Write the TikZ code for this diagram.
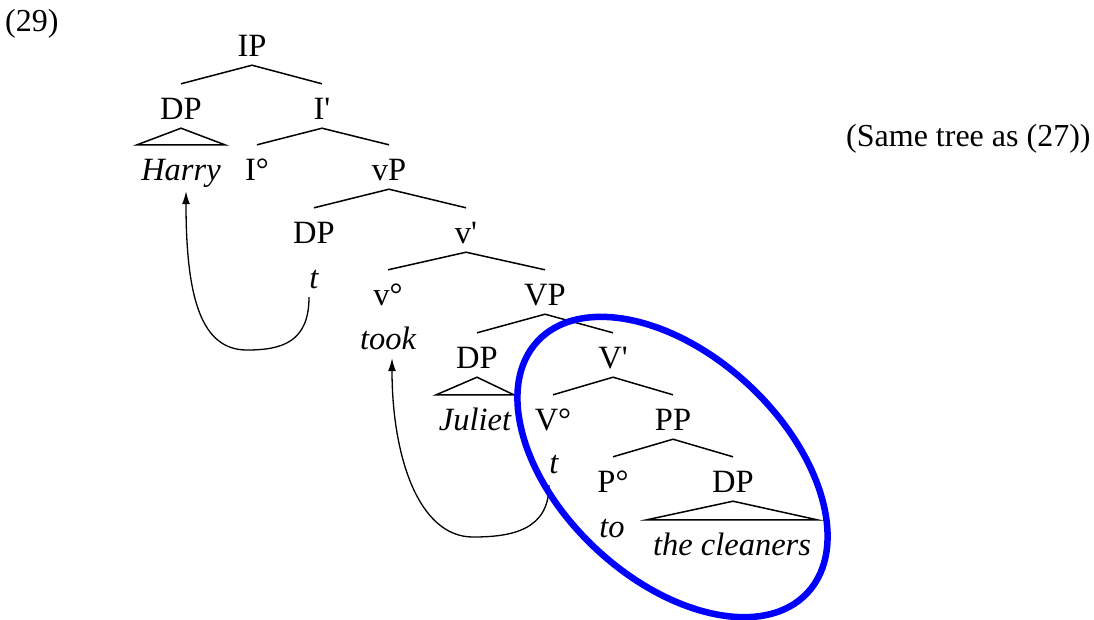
\documentclass[tikz,border=0pt]{standalone}
\usepackage{fontspec}
\setmainfont{Liberation Serif}[Ligatures=TeXOff]
\usetikzlibrary{arrows.meta}
\begin{document}
\begin{tikzpicture}[x=1pt,y=-1pt,
  lab/.style={inner ysep=0pt, inner xsep=0pt, text height=35pt, text depth=9pt, anchor=base, font=\fontsize{32.5}{38}\selectfont},
  ital/.style={lab, font=\fontsize{32.5}{38}\selectfont\itshape},
  word/.style={ital, inner xsep=4pt},
  free/.style={inner sep=0pt, anchor=base west, font=\fontsize{32}{38}\selectfont},
  branch/.style={line width=1.5pt},
  mv/.style={line width=1.3pt, -{Latex[length=13pt,width=8pt]}},
  circ/.style={draw={rgb,255:red,0;green,0;blue,255}, line width=6.5pt}]
\useasboundingbox (0,0) rectangle (1094,619);

\node[free] (ex) at (5,31) {(29)};
\node[free] (note) at (846,146) {(Same tree as (27))};

\node[lab] (IP) at (252,56) {IP};
\node[lab] (DPa) at (181,119) {DP};
\node[lab] (Ib) at (322,119) {I'};
\node[word] (harry) at (181,180) {Harry};
\node[lab] (Io) at (257,180) {I°};
\node[lab] (vP) at (389,180) {vP};
\node[lab] (DPb) at (314,243) {DP};
\node[lab] (vb) at (466,243) {v'};
\node[ital] (ta) at (314,288) {t};
\node[lab] (vo) at (388,305) {v°};
\node[lab] (VP) at (545,305) {VP};
\node[ital] (took) at (388,349) {took};
\node[lab] (DPc) at (477,368) {DP};
\node[lab] (Vb) at (613,368) {V'};
\node[word, inner xsep=2.5pt] (juliet) at (475,430) {Juliet};
\node[lab] (Vo) at (553,430) {V°};
\node[lab] (PP) at (673,430) {PP};
\node[ital] (tb) at (554,473) {t};
\node[lab] (Po) at (613,492) {P°};
\node[lab] (DPd) at (733,492) {DP};
\node[ital] (to) at (612,537) {to};
\node[word, inner xsep=6pt] (cleaners) at (732,555) {the cleaners};

\draw[branch] (DPa.north) -- (IP.south) -- (Ib.north);
\draw[branch] (Io.north) -- (Ib.south) -- (vP.north);
\draw[branch] (DPb.north) -- (vP.south) -- (vb.north);
\draw[branch] (vo.north) -- (vb.south) -- (VP.north);
\draw[branch] (DPc.north) -- (VP.south) -- (Vb.north);
\draw[branch] (Vo.north) -- (Vb.south) -- (PP.north);
\draw[branch] (Po.north) -- (PP.south) -- (DPd.north);

\draw[branch] (DPa.south) -- (harry.north west) -- (harry.north east) -- cycle;
\draw[branch] (DPc.south) -- (juliet.north west) -- (juliet.north east) -- cycle;
\draw[branch] (DPd.south) -- (cleaners.north west) -- (cleaners.north east) -- cycle;

\coordinate (bota) at (247,350);
\coordinate (botb) at (473,537);
\draw[mv] ([xshift=-5pt]ta.south) .. controls (309,342) and (282,350) .. (bota)
  .. controls (202,350) and (186,300) .. ([xshift=5pt,yshift=-2pt]harry.south);
\draw[mv] ([xshift=-5pt,yshift=-3pt]tb.south) .. controls (549,530) and (512,537) .. (botb)
  .. controls (418,537) and (392,455) .. ([xshift=4pt]took.south);

\draw[circ, rotate around={-43:(672.5,467)}] (672.5,467) ellipse [x radius=184.5pt, y radius=112pt];
\end{tikzpicture}
\end{document}
